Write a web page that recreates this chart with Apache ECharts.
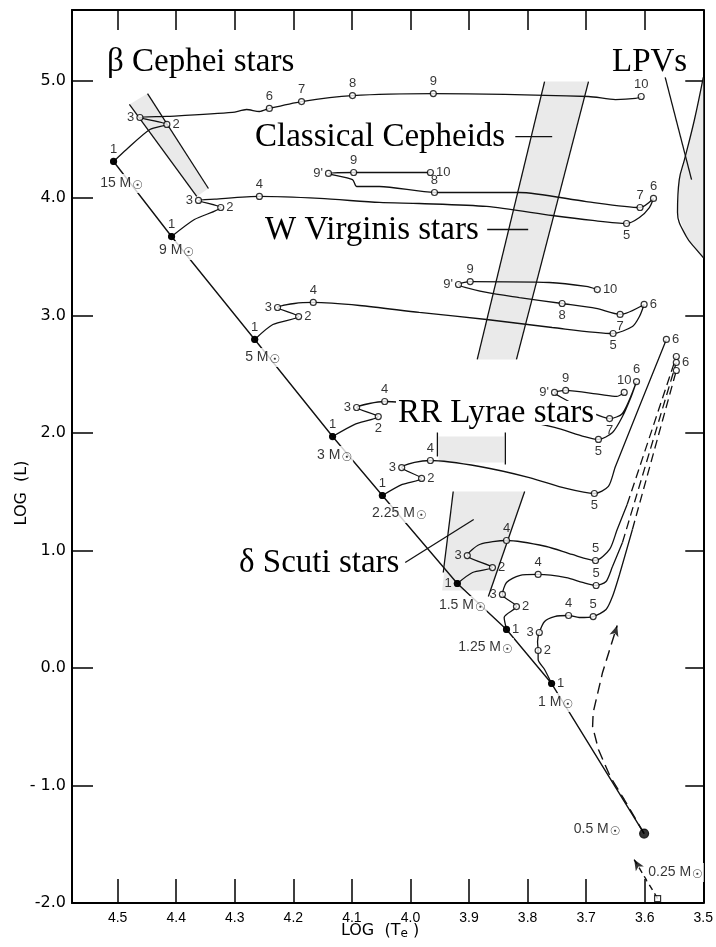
<!DOCTYPE html>
<html><head><meta charset="utf-8">
<script src="https://cdn.jsdelivr.net/npm/echarts/dist/echarts.min.js"></script>
<style>html,body{margin:0;padding:0;background:#fff}#c{width:716px;height:947px}</style>
</head><body><div id="c"></div>
<script>
// ---- data: [log Te, log L, point label] ----
const zams = [[4.507,4.311,'15'],[4.408,3.672,'9'],[4.266,2.796,'5'],[4.133,1.970,'3'],[4.048,1.468,'2.25'],[3.920,0.719,'1.5'],[3.836,0.328,'1.25'],[3.759,-0.132,'1'],[3.601,-1.409,'0.5']];
const star025 = [[3.578,-1.962,'0.25']];
const arrow025 = [[3.578,-1.962],[3.618,-1.630]];
const arrow05 = [[3.601,-1.409],[3.635,-1.119],[3.659,-0.923],[3.679,-0.694],[3.689,-0.498],[3.688,-0.379],[3.672,-0.038],[3.647,0.362]];

const track15 = [[4.507,4.311,'1'],[4.485,4.413,''],[4.445,4.583,''],[4.416,4.626,'2'],[4.462,4.685,'3'],[4.416,4.694,''],[4.304,4.728,''],[4.280,4.753,''],[4.258,4.736,''],[4.241,4.762,'6'],[4.186,4.821,'7'],[4.099,4.872,'8'],[3.961,4.889,'9'],[3.696,4.864,''],[3.650,4.838,''],[3.616,4.847,''],[3.606,4.864,'10']];
const track9 = [[4.408,3.672,'1'],[4.369,3.817,''],[4.324,3.919,'2'],[4.362,3.979,'3'],[4.334,3.990,''],[4.258,4.013,'4'],[4.155,3.996,''],[4.053,3.962,''],[3.985,3.953,''],[3.870,3.928,''],[3.758,3.851,''],[3.689,3.809,''],[3.631,3.783,'5'],[3.609,3.834,''],[3.592,3.919,''],[3.585,3.996,'6'],[3.608,3.919,'7'],[3.700,3.970,''],[3.814,4.047,''],[3.959,4.047,'8'],[4.053,4.098,''],[4.092,4.098,''],[4.099,4.157,''],[4.140,4.209,"9'"],[4.097,4.217,'9'],[3.966,4.217,'10']];
const track5 = [[4.266,2.796,'1'],[4.235,2.923,''],[4.191,2.991,'2'],[4.227,3.068,'3'],[4.198,3.102,''],[4.166,3.111,'4'],[4.087,3.085,''],[3.985,3.026,''],[3.870,2.966,''],[3.758,2.898,''],[3.654,2.847,'5'],[3.621,2.906,''],[3.609,2.991,''],[3.601,3.094,'6'],[3.642,3.009,'7'],[3.683,3.060,''],[3.741,3.102,'8'],[3.814,3.153,''],[3.870,3.196,''],[3.918,3.264,"9'"],[3.898,3.289,'9'],[3.763,3.281,''],[3.700,3.247,''],[3.681,3.221,'10']];
const track3 = [[4.133,1.970,'1'],[4.096,2.072,''],[4.055,2.140,'2'],[4.092,2.217,'3'],[4.070,2.251,''],[4.044,2.268,'4'],[3.968,2.234,''],[3.848,2.149,''],[3.754,2.047,''],[3.703,1.970,''],[3.679,1.945,'5'],[3.655,2.004,''],[3.638,2.140,''],[3.623,2.311,''],[3.614,2.438,'6'],[3.638,2.166,''],[3.660,2.123,'7'],[3.695,2.183,''],[3.742,2.302,''],[3.754,2.345,"9'"],[3.735,2.362,'9'],[3.677,2.328,''],[3.648,2.311,''],[3.635,2.345,'10']];
const track225 = [[4.048,1.468,'1'],[4.014,1.562,''],[3.981,1.613,'2'],[4.015,1.706,'3'],[3.993,1.749,''],[3.966,1.766,'4'],[3.882,1.715,''],[3.797,1.621,''],[3.734,1.528,''],[3.686,1.485,'5'],[3.662,1.545,''],[3.650,1.715,''],[3.563,2.796,'6']];
const track15s = [[3.920,0.719,'1'],[3.894,0.813,''],[3.860,0.855,'2'],[3.903,0.957,'3'],[3.882,1.051,''],[3.836,1.085,'4'],[3.768,1.034,''],[3.724,0.966,''],[3.684,0.915,'5'],[3.660,1.009,''],[3.647,1.179,''],[3.630,1.391,'']];
const track15d = [[3.630,1.391,''],[3.546,2.651,'6']];
const track125 = [[3.836,0.328,'1'],[3.840,0.430,''],[3.819,0.523,'2'],[3.843,0.626,'3'],[3.836,0.728,''],[3.814,0.787,''],[3.782,0.796,'4'],[3.734,0.770,''],[3.706,0.728,''],[3.683,0.702,'5'],[3.666,0.736,''],[3.655,0.864,''],[3.638,1.068,'']];
const track125d = [[3.638,1.068,''],[3.546,2.600,'6']];
const track1 = [[3.759,-0.132,'1'],[3.771,-0.013,''],[3.782,0.072,''],[3.782,0.149,'2'],[3.783,0.226,''],[3.780,0.302,'3'],[3.771,0.396,''],[3.754,0.438,''],[3.730,0.447,'4'],[3.712,0.430,''],[3.688,0.438,'5'],[3.666,0.498,''],[3.655,0.609,''],[3.643,0.796,''],[3.621,1.179,'']];
const track1d = [[3.621,1.179,''],[3.546,2.532,'6']];

// instability strips
const bCepLeft = [[4.480,4.796],[4.365,4.013]];
const bCepRight = [[4.449,4.889],[4.345,4.081]];
const cephLeft = [[3.771,4.991],[3.886,2.626]];
const cephRight = [[3.696,4.991],[3.819,2.626]];
const rrLeft = [[3.954,2.004],[3.954,1.800]];
const rrRight = [[3.838,2.004],[3.838,1.732]];
const rrFill = [[3.952,1.970],[3.840,1.970],[3.840,1.749],[3.952,1.749]];
const dsLeft = [[3.927,1.502],[3.944,0.813]];
const dsRight = [[3.805,1.502],[3.867,0.609]];
const dsFill = [[3.927,1.502],[3.805,1.502],[3.863,0.660],[3.946,0.660]];
const lpvEdge = [[3.500,5.026],[3.515,4.668],[3.532,4.328],[3.541,4.157],[3.544,3.877],[3.529,3.672],[3.512,3.562],[3.500,3.494]];
const cephPointer = [[3.821,4.523],[3.758,4.523]];
const wvirPointer = [[3.869,3.732],[3.799,3.732]];
const dsctPointer = [[4.009,0.898],[3.892,1.264]];
const lpvPointer = [[3.565,5.026],[3.520,4.157]];

const xTicks = [4.5,4.4,4.3,4.2,4.1,4.0,3.9,3.8,3.7,3.6,3.5];
const yTicks = [5,4,3,2,1,0,-1,-2];

// ---- styles ----
const FONT = 'Liberation Sans';
const SHADE = '#eaeaea';
const labelPos = {
  t15:{'1':'top','2':'right','3':'left','6':'top','7':'top','8':'top','9':'top','10':'top'},
  t9:{'1':'top','2':'right','3':'left','4':'top','5':'bottom','6':'top','7':'top','8':'top',"9'":'left','9':'top','10':'right'},
  t5:{'1':'top','2':'right','3':'left','4':'top','5':'bottom','6':'right','7':'bottom','8':'bottom',"9'":'left','9':'top','10':'right'},
  t3:{'1':'top','2':'bottom','3':'left','4':'top','5':'bottom','6':'top','7':'bottom',"9'":'left','9':'top','10':'top'},
  t225:{'1':'top','2':'right','3':'left','4':'top','5':'bottom','6':'right'},
  t15s:{'1':'left','2':'right','3':'left','4':'top','5':'top'},
  t125:{'1':'right','2':'right','3':'left','4':'top','5':'top','6':'right'},
  t1:{'1':'right','2':'right','3':'left','4':'top','5':'top'}
};
const zamsOffset = {'15':[8,22],'9':[5,14],'5':[8,18],'3':[2,19],'2.25':[17,18],'1.5':[5,22],'1.25':[-21,18],'1':[4,19],'0.5':[-47,-4],'0.25':[18,-26]};

const series = [];
function line(pts, opt) {
  series.push(Object.assign({type:'line', data: pts.map(p=>[p[0],p[1]]), showSymbol:false, symbol:'none',
    lineStyle:{color:'#111', width:1.3}, silent:true, z:3, animation:false}, opt||{}));
}
function poly(pts, fill) {
  series.push({type:'custom', data: pts.map(p=>[p[0],p[1]]), encode:{x:0,y:1}, silent:true, z:1, animation:false,
    renderItem:(params, api) => {
      if (params.dataIndex !== 0) return null;
      return {type:'polygon', shape:{points: pts.map(p=>api.coord([p[0],p[1]]))}, style:{fill: fill, stroke:'none'}};
    }});
}
function points(pts, posMap) {
  const d = pts.filter(p=>p[2] !== '').map(p => {
    const pos = posMap[p[2]];
    const filled = p[2] === '1';
    return {value:[p[0],p[1]],
      itemStyle: filled ? {color:'#000', borderColor:'#000', borderWidth:1} : {color:'#fff', borderColor:'#000', borderWidth:1.2},
      symbolSize: 6,
      label:{show: !!pos, position: pos || 'top', formatter: p[2], distance: 2, fontSize: 13, fontFamily: FONT, color:'#000'}};
  });
  series.push({type:'scatter', data:d, symbol:'circle', z:6, silent:true, animation:false});
}

// strips
poly(bCepLeft.concat(bCepRight.slice().reverse()), SHADE);
poly(cephLeft.concat(cephRight.slice().reverse()), SHADE);
poly(rrFill, SHADE);
poly(dsFill, SHADE);
poly(lpvEdge, SHADE);
[bCepLeft,bCepRight,cephLeft,cephRight,rrLeft,rrRight,dsLeft,dsRight,cephPointer,wvirPointer,dsctPointer,lpvPointer].forEach(s=>line(s,{lineStyle:{color:'#111',width:1.3}}));
line(lpvEdge, {smooth:0.4});

// ZAMS
line(zams, {lineStyle:{color:'#111', width:1.4}});

// tracks
const tracks = [[track15,'t15'],[track9,'t9'],[track5,'t5'],[track3,'t3'],[track225,'t225'],[track15s,'t15s'],[track125,'t125'],[track1,'t1']];
tracks.forEach(t => line(t[0], {smooth:0.25}));
const dash = {color:'#111', width:1.3, type:[9,5]};
line(track15d, {lineStyle:dash});
line(track125d, {lineStyle:dash});
line(track1d, {lineStyle:dash});
tracks.forEach(t => points(t[0], labelPos[t[1]]));
points(track15d, {});
points(track125d, labelPos.t125);
points(track1d, {});

// dashed evolutionary arrows
const dash2 = {color:'#111', width:1.4, type:[11,6]};
line(arrow05, {lineStyle:dash2});
line(arrow025, {lineStyle:{color:'#111', width:1.4, type:[6,4]}});
const arrowHeads = [arrow05, arrow025];
series.push({id:'heads', type:'scatter', symbol:'arrow', symbolSize:[7,11], z:6, silent:true, animation:false,
  itemStyle:{color:'#000'}, data: arrowHeads.map(a => ({value: a[a.length-1]}))});

// ZAMS mass points and labels
function massLabel(pts, sym, size, fill) {
  series.push({type:'scatter', symbol:sym, z:7, silent:true, animation:false,
    data: pts.map(p => ({value:[p[0],p[1]], symbolSize: (p[2]==='0.5') ? 9 : size,
      itemStyle:{color: fill, borderColor:'#000', borderWidth:1.2},
      label:{show:true, position:'inside', offset: zamsOffset[p[2]], formatter:'{n|' + p[2] + ' M}{s|☉}',
        backgroundColor:'#fff', padding:[1,1,1,1],
        rich:{n:{fontSize:14, fontFamily:FONT, color:'#000'}, s:{fontSize:12, fontFamily:'DejaVu Sans', color:'#000', padding:[5,0,0,1]}}}}))});
}
massLabel(zams, 'circle', 6, '#000');
massLabel(star025, 'rect', 6, '#fff');

const fmtX = v => (xTicks.some(t=>Math.abs(t-v)<1e-6)) ? v.toFixed(1) : '';
const fmtY = v => (yTicks.some(t=>Math.abs(t-v)<1e-6)) ? (Math.round(v) === -1 ? '- 1.0' : v.toFixed(1)) : '';
const axLine = {show:true, onZero:false, lineStyle:{color:'#000', width:2}};

const chart = echarts.init(document.getElementById('c'), null, {renderer:'canvas'});
chart.setOption({
  animation:false,
  backgroundColor:'#fff',
  grid:{left:72, right:12, top:10, bottom:44, containLabel:false},
  xAxis:[
    {type:'value', min:3.5, max:4.578, interval:0.1, inverse:true, position:'bottom', axisLine:axLine,
     axisTick:{show:true, inside:true, length:24, lineStyle:{color:'#000', width:1.5}},
     axisLabel:{formatter:fmtX, color:'#000', fontSize:14, fontFamily:FONT, margin:8}, splitLine:{show:false}},
    {type:'value', min:3.5, max:4.578, interval:0.1, inverse:true, position:'top', axisLine:axLine,
     axisTick:{show:true, inside:true, length:20, lineStyle:{color:'#000', width:1.5}},
     axisLabel:{show:false}, splitLine:{show:false}}
  ],
  yAxis:[
    {type:'value', min:-2, max:5.6, interval:1, position:'left', axisLine:axLine,
     axisTick:{show:true, inside:true, length:21, lineStyle:{color:'#000', width:1.5}},
     axisLabel:{formatter:fmtY, color:'#000', fontSize:16, fontFamily:'DejaVu Sans', margin:6}, splitLine:{show:false}},
    {type:'value', min:-2, max:5.6, interval:1, position:'right', axisLine:axLine,
     axisTick:{show:true, inside:true, length:18, lineStyle:{color:'#000', width:1.5}},
     axisLabel:{show:false}, splitLine:{show:false}}
  ],
  graphic:[
    {type:'text', x:107, y:62, z:100, style:{text:'β Cephei stars', font:'33px "Liberation Serif"', fill:'#000', verticalAlign:'middle'}},
    {type:'text', x:255, y:137, z:100, style:{text:'Classical Cepheids', font:'33px "Liberation Serif"', fill:'#000', verticalAlign:'middle'}},
    {type:'text', x:265, y:230, z:100, style:{text:'W Virginis stars', font:'33px "Liberation Serif"', fill:'#000', verticalAlign:'middle'}},
    {type:'text', x:612, y:62, z:100, style:{text:'LPVs', font:'33px "Liberation Serif"', fill:'#000', verticalAlign:'middle'}},
    {type:'text', x:396, y:413, z:100, style:{text:'RR Lyrae stars', font:'33px "Liberation Serif"', lineHeight:24, fill:'#000', verticalAlign:'middle', backgroundColor:'#fff', padding:[0,2,0,2]}},
    {type:'text', x:239, y:563, z:100, style:{text:'δ Scuti stars', font:'33px "Liberation Serif"', fill:'#000', verticalAlign:'middle'}},
    {type:'text', x:22, y:493, rotation:Math.PI/2, z:100, style:{text:'LOG  (L)', font:'16px "DejaVu Sans"', fill:'#000', align:'center', verticalAlign:'middle'}},
    {type:'text', x:380, y:931, z:100, style:{text:'{a|LOG  (T}{b|e}{a| )}', fill:'#000', align:'center', verticalAlign:'middle',
      rich:{a:{fontSize:16, fontFamily:'DejaVu Sans', fill:'#000', color:'#000'}, b:{fontSize:12, fontFamily:'DejaVu Sans', color:'#000', fill:'#000', padding:[6,0,0,0]}}}}
  ],
  series: series
});

// orient arrowheads along the last segment of each dashed path
const heads = arrowHeads.map(a => {
  const p0 = chart.convertToPixel({gridIndex:0}, a[a.length-2]);
  const p1 = chart.convertToPixel({gridIndex:0}, a[a.length-1]);
  const ang = Math.atan2(p1[0]-p0[0], -(p1[1]-p0[1])) * 180 / Math.PI;
  return {value: a[a.length-1], symbolRotate: -ang};
});
chart.setOption({series:[{id:'heads', data: heads}]});
</script></body></html>
